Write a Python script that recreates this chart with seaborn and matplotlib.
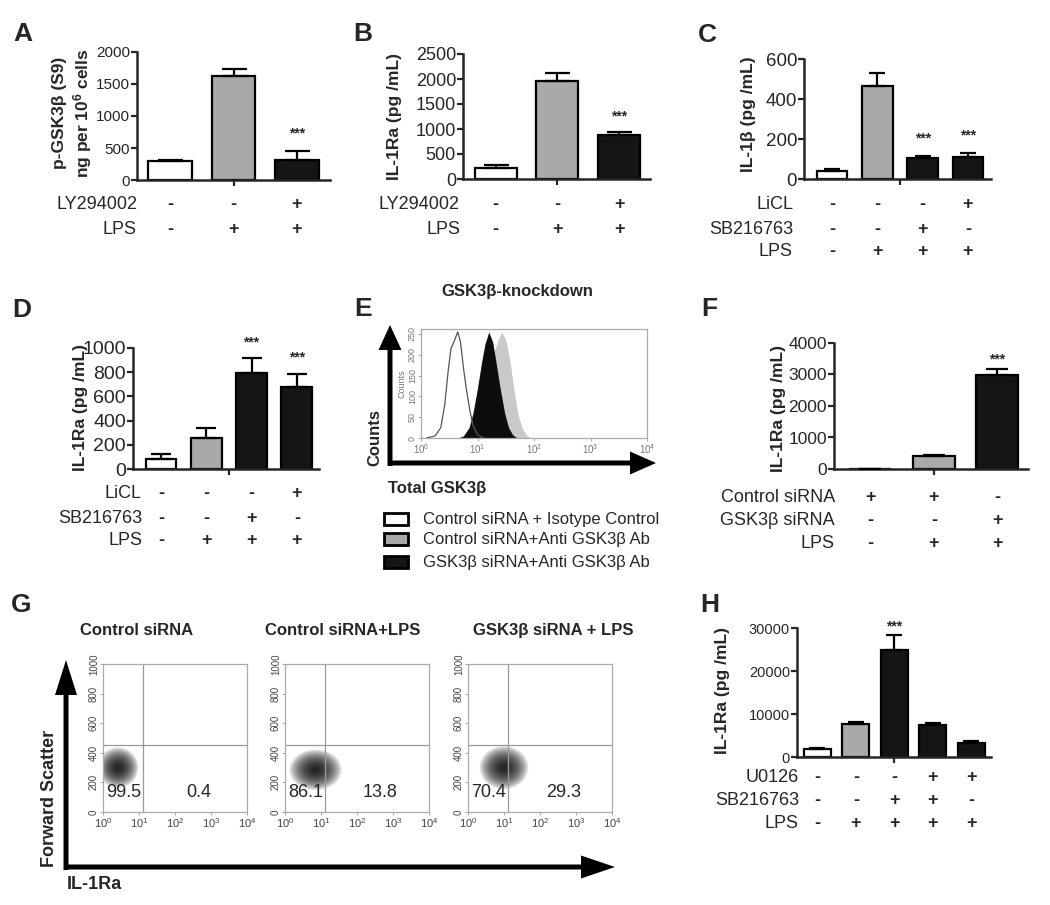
import matplotlib
matplotlib.use("Agg")
import matplotlib.pyplot as plt
import matplotlib.transforms as mtransforms
from matplotlib.patches import Ellipse, Rectangle
import numpy as np
import pandas as pd
import seaborn as sns

sns.set_style("ticks")
plt.rcParams["font.family"] = ["Liberation Sans", "DejaVu Sans"]
plt.rcParams["mathtext.fontset"] = "custom"
plt.rcParams["mathtext.rm"] = "Liberation Sans"
plt.rcParams["mathtext.bf"] = "Liberation Sans:bold"
plt.rcParams["mathtext.it"] = "Liberation Sans:italic"

W, H = 1050, 905
WHITE, GRAY, BLACK = "#ffffff", "#a9a9a9", "#151515"

# ---- bar panel data (mean, upper SEM) ----
A_MEANS = [290, 1630, 320]
A_SEMS = [30, 110, 140]
A_COLORS = [WHITE, GRAY, BLACK]
A_ROWS = ["LY294002", "LPS"]
A_SIGNS = [["-", "-", "+"], ["-", "+", "+"]]

B_MEANS = [220, 1960, 880]
B_SEMS = [65, 150, 65]
B_COLORS = [WHITE, GRAY, BLACK]
B_ROWS = ["LY294002", "LPS"]
B_SIGNS = [["-", "-", "+"], ["-", "+", "+"]]

C_MEANS = [38, 465, 105, 112]
C_SEMS = [13, 65, 12, 19]
C_COLORS = [WHITE, GRAY, BLACK, BLACK]
C_ROWS = ["LiCL", "SB216763", "LPS"]
C_SIGNS = [["-", "-", "-", "+"], ["-", "-", "+", "-"], ["-", "+", "+", "+"]]

D_MEANS = [80, 257, 795, 677]
D_SEMS = [45, 82, 122, 110]
D_COLORS = [WHITE, GRAY, BLACK, BLACK]
D_ROWS = ["LiCL", "SB216763", "LPS"]
D_SIGNS = [["-", "-", "-", "+"], ["-", "-", "+", "-"], ["-", "+", "+", "+"]]

F_MEANS = [5, 400, 2970]
F_SEMS = [0, 30, 210]
F_COLORS = [WHITE, GRAY, BLACK]
F_ROWS = ["Control siRNA", "GSK3β siRNA", "LPS"]
F_SIGNS = [["+", "+", "-"], ["-", "-", "+"], ["-", "+", "+"]]

H_MEANS = [1800, 7750, 24800, 7500, 3150]
H_SEMS = [350, 450, 3500, 450, 650]
H_COLORS = [WHITE, GRAY, BLACK, BLACK, BLACK]
H_ROWS = ["U0126", "SB216763", "LPS"]
H_SIGNS = [["-", "-", "-", "+", "+"], ["-", "-", "+", "+", "-"], ["-", "+", "+", "+", "+"]]

# ---- flow histogram (E): log10 intensity vs counts ----
E_WHITE_X = [0.10, 0.25, 0.35, 0.42, 0.48, 0.53, 0.58, 0.65, 0.70, 0.75, 0.80, 0.86, 0.92, 1.00, 1.10]
E_WHITE_Y = [0, 5, 25, 80, 160, 215, 230, 255, 230, 170, 120, 70, 30, 8, 0]
E_BLACK_X = [0.65, 0.75, 0.85, 0.92, 1.00, 1.07, 1.13, 1.20, 1.27, 1.33, 1.40, 1.48, 1.55, 1.62, 1.70]
E_BLACK_Y = [0, 5, 25, 60, 120, 180, 225, 255, 230, 180, 120, 60, 25, 8, 0]
E_GRAY_X = [0.90, 1.00, 1.10, 1.20, 1.30, 1.38, 1.43, 1.50, 1.58, 1.65, 1.72, 1.80, 1.88, 1.95]
E_GRAY_Y = [0, 15, 60, 140, 210, 240, 255, 235, 180, 110, 55, 20, 5, 0]
E_LEGEND = ["Control siRNA + Isotype Control", "Control siRNA+Anti GSK3β Ab",
            "GSK3β siRNA+Anti GSK3β Ab"]

# ---- flow dot plots (G) ----
G_TITLES = ["Control siRNA", "Control siRNA+LPS", "GSK3β siRNA + LPS"]
G_CLOUD_X = [0.42, 0.85, 1.00]
G_CLOUD_Y = [300, 285, 300]
G_LEFT_PCT = ["99.5", "86.1", "70.4"]
G_RIGHT_PCT = ["0.4", "13.8", "29.3"]
G_GATE_X = 1.1
G_GATE_Y = 450


def px_axes(fig, left, top, right, bottom):
    return fig.add_axes([left / W, 1 - bottom / H, (right - left) / W, (bottom - top) / H])


def draw_bars(fig, over, p):
    ax = px_axes(fig, *p["box"])
    n = len(p["means"])
    df = pd.DataFrame({"group": [f"g{i}" for i in range(n)], "value": p["means"]})
    sns.barplot(data=df, x="group", y="value", hue="group", palette=p["colors"],
                legend=False, width=p["width"], edgecolor="black", linewidth=1.6,
                saturation=1, ax=ax)
    pos = np.arange(n)
    ax.errorbar(pos, p["means"], yerr=[np.zeros(n), p["sems"]], fmt="none",
                ecolor="black", elinewidth=1.6, capsize=p["cap"], capthick=1.6, zorder=4)
    ax.set_xlim(*p["xlim"])
    ax.set_ylim(0, p["yticks"][-1])
    ax.set_yticks(p["yticks"])
    ax.set_xticks([(n - 1) / 2])
    ax.set_xticklabels([""])
    ax.set_xlabel("")
    ax.set_ylabel("")
    ax.tick_params(axis="y", labelsize=p["tick_fs"], width=1.6, length=4, pad=1)
    ax.tick_params(axis="x", width=1.6, length=4)
    sns.despine(ax=ax)
    for s in ["left", "bottom"]:
        ax.spines[s].set_linewidth(1.8)
    ax.set_facecolor("none")

    for i in p["stars"]:
        ax.annotate("***", xy=(i, p["means"][i] + p["sems"][i]), xytext=(0, p["star_off"]),
                    textcoords="offset pixels", ha="center", va="center",
                    fontsize=10, fontweight="bold")

    over.text(*p["ylabel_xy"], p["ylabel"], rotation=90, ha="center", va="center",
              fontsize=12.5, fontweight="bold", linespacing=1.25)

    tr = mtransforms.blended_transform_factory(ax.transData, over.transData)
    for name, y, signs in zip(p["rows"], p["row_y"], p["signs"]):
        over.text(p["row_x"], y, name, ha="right", va="center", fontsize=13)
        for i, s in enumerate(signs):
            ax.text(i, y, s, transform=tr, ha="center", va="center",
                    fontsize=13, fontweight="bold")
    return ax


def flow_ticks(ax, yticks, fs_x, fs_y, color):
    ax.set_xlim(0, 4)
    ax.set_xticks(range(5))
    ax.set_xticklabels([rf"$10^{{{i}}}$" for i in range(5)], fontsize=fs_x, color=color)
    ax.set_yticks(yticks)
    ax.set_yticklabels([str(t) for t in yticks], fontsize=fs_y, color=color,
                       rotation=90, va="center")
    ax.tick_params(length=2, width=0.6, color="#999999", pad=1)
    for s in ax.spines.values():
        s.set_color("#aaaaaa")
        s.set_linewidth(0.9)
    ax.set_facecolor("none")


fig = plt.figure(figsize=(W / 100, H / 100), dpi=100)
over = fig.add_axes([0, 0, 1, 1])
over.set_xlim(0, W)
over.set_ylim(H, 0)
over.axis("off")
over.set_zorder(10)

panels = [
    dict(box=(137, 52, 330, 180), means=A_MEANS, sems=A_SEMS, colors=A_COLORS,
         xlim=(-0.52, 2.52), width=0.68, cap=9, yticks=[0, 500, 1000, 1500, 2000],
         tick_fs=11, stars=[2], star_off=17,
         ylabel="p-GSK3β (S9)\nng per 10$^{\\mathbf{6}}$ cells", ylabel_xy=(73, 113),
         rows=A_ROWS, signs=A_SIGNS, row_x=137, row_y=[204, 229]),
    dict(box=(463, 54, 650, 179), means=B_MEANS, sems=B_SEMS, colors=B_COLORS,
         xlim=(-0.53, 2.5), width=0.68, cap=9, yticks=[0, 500, 1000, 1500, 2000, 2500],
         tick_fs=13, stars=[2], star_off=15,
         ylabel="IL-1Ra (pg /mL)", ylabel_xy=(395, 117),
         rows=B_ROWS, signs=B_SIGNS, row_x=460, row_y=[204, 229]),
    dict(box=(804, 59, 991, 179), means=C_MEANS, sems=C_SEMS, colors=C_COLORS,
         xlim=(-0.62, 3.51), width=0.68, cap=5.5, yticks=[0, 200, 400, 600],
         tick_fs=13.5, stars=[2, 3], star_off=17,
         ylabel="IL-1β (pg /mL)", ylabel_xy=(748, 114),
         rows=C_ROWS, signs=C_SIGNS, row_x=793, row_y=[204, 229, 251]),
    dict(box=(133, 348, 319, 469), means=D_MEANS, sems=D_SEMS, colors=D_COLORS,
         xlim=(-0.62, 3.49), width=0.68, cap=7, yticks=[0, 200, 400, 600, 800, 1000],
         tick_fs=14, stars=[2, 3], star_off=16,
         ylabel="IL-1Ra (pg /mL)", ylabel_xy=(80, 407),
         rows=D_ROWS, signs=D_SIGNS, row_x=142, row_y=[493, 518, 540]),
    dict(box=(834, 343, 1028, 469), means=F_MEANS, sems=F_SEMS, colors=F_COLORS,
         xlim=(-0.57, 2.48), width=0.66, cap=8, yticks=[0, 1000, 2000, 3000, 4000],
         tick_fs=12.5, stars=[2], star_off=9,
         ylabel="IL-1Ra (pg /mL)", ylabel_xy=(778, 408),
         rows=F_ROWS, signs=F_SIGNS, row_x=835, row_y=[497, 520, 543]),
    dict(box=(797, 628, 991, 757), means=H_MEANS, sems=H_SEMS, colors=H_COLORS,
         xlim=(-0.53, 4.51), width=0.7, cap=5.5, yticks=[0, 10000, 20000, 30000],
         tick_fs=10.5, stars=[2], star_off=9,
         ylabel="IL-1Ra (pg /mL)", ylabel_xy=(722, 690),
         rows=H_ROWS, signs=H_SIGNS, row_x=799, row_y=[777, 800, 823]),
]
for p in panels:
    draw_bars(fig, over, p)

# ---- panel E: histogram overlay ----
ax_e = px_axes(fig, 421, 329, 647, 438)
ax_e.fill_between(E_GRAY_X, E_GRAY_Y, color="#c9c9c9", lw=0)
ax_e.fill_between(E_BLACK_X, E_BLACK_Y, color="#0d0d0d", lw=0)
sns.lineplot(x=E_WHITE_X, y=E_WHITE_Y, sort=False, estimator=None,
             color="#555555", lw=0.9, ax=ax_e)
ax_e.set_ylim(0, 262)
flow_ticks(ax_e, [0, 50, 100, 150, 200, 250], 7, 6.5, "#777777")
ax_e.set_ylabel("Counts", fontsize=6.5, color="#777777", labelpad=1)

over.text(517, 291, "GSK3β-knockdown", ha="center", va="center", fontsize=12, fontweight="bold")
over.arrow(390, 466, 0, -141, width=5, head_width=23, head_length=25,
           length_includes_head=True, color="black", lw=0)
over.arrow(388, 463, 268, 0, width=5, head_width=23, head_length=26,
           length_includes_head=True, color="black", lw=0)
over.text(375, 437, "Counts", rotation=90, ha="center", va="center",
          fontsize=12, fontweight="bold")
over.text(388, 488, "Total GSK3β", ha="left", va="center", fontsize=12, fontweight="bold")
for label, face, y in zip(E_LEGEND, [WHITE, GRAY, BLACK], [519, 539, 562]):
    over.add_patch(Rectangle((384, y - 6), 24, 12, facecolor=face, edgecolor="black", lw=2))
    over.text(423, y, label, ha="left", va="center", fontsize=12)

# ---- panel G: dot plots ----
g_boxes = [(103, 664, 247, 812), (285, 664, 429, 812), (468, 664, 612, 812)]
g_title_x = [137, 343, 553]
g_core = [(0.35, 85), (0.45, 85), (0.42, 90)]
cloud_scales = np.linspace(1.6, 0.2, 12)
for k, box in enumerate(g_boxes):
    ax = px_axes(fig, *box)
    ax.set_ylim(0, 1000)
    flow_ticks(ax, [0, 200, 400, 600, 800, 1000], 8, 7, "#444444")
    ax.axvline(G_GATE_X, color="#999999", lw=0.9)
    ax.axhline(G_GATE_Y, color="#999999", lw=0.9)
    rx, ry = g_core[k]
    for scale in cloud_scales:
        ax.add_patch(Ellipse((G_CLOUD_X[k], G_CLOUD_Y[k]), 2 * rx * scale, 2 * ry * scale,
                             facecolor="black", edgecolor="none", alpha=0.14))
    ax.text(0.58, 130, G_LEFT_PCT[k], ha="center", va="center", fontsize=13)
    ax.text(2.65, 130, G_RIGHT_PCT[k], ha="center", va="center", fontsize=13)
    over.text(g_title_x[k], 630, G_TITLES[k], ha="center", va="center",
              fontsize=12, fontweight="bold")

over.arrow(66, 870, 0, -210, width=5, head_width=22, head_length=35,
           length_includes_head=True, color="black", lw=0)
over.arrow(64, 867, 551, 0, width=5, head_width=23, head_length=34,
           length_includes_head=True, color="black", lw=0)
over.text(50, 798, "Forward Scatter", rotation=90, ha="center", va="center",
          fontsize=13, fontweight="bold")
over.text(67, 884, "IL-1Ra", ha="left", va="center", fontsize=13, fontweight="bold")

# ---- panel letters ----
for letter, (x, y) in zip("ABCDEFGH", [(23, 34), (363, 34), (707, 35), (22, 310),
                                       (363, 309), (709, 309), (21, 605), (710, 605)]):
    over.text(x, y, letter, ha="center", va="center", fontsize=19, fontweight="bold")

fig.savefig("out.png", dpi=100)
